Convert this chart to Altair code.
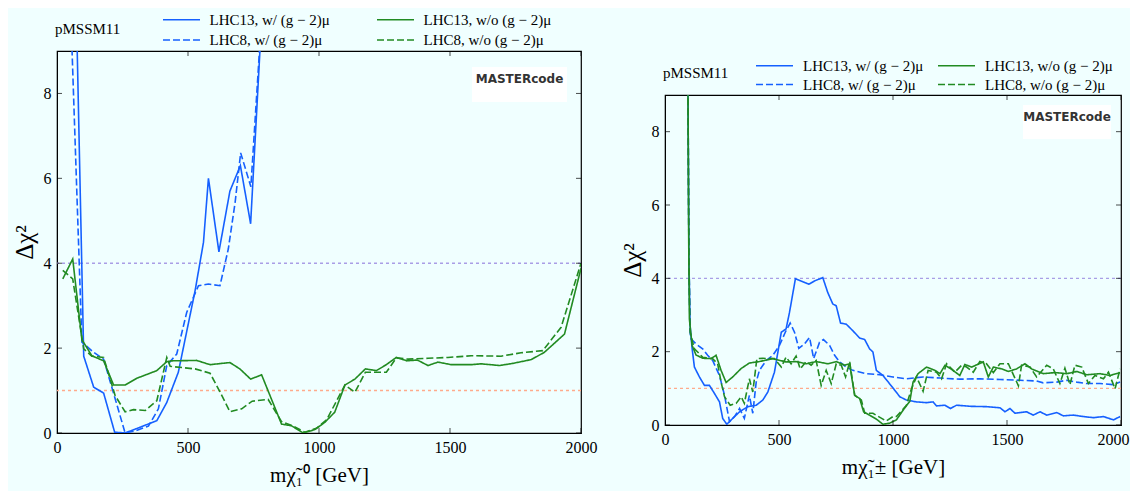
import altair as alt
import pandas as pd

FONT = "Liberation Serif"
SERIES = ["LHC13, w/ (g − 2)μ", "LHC8, w/ (g − 2)μ", "LHC13, w/o (g − 2)μ", "LHC8, w/o (g − 2)μ"]
COLORS = ["#1560ff", "#1560ff", "#228b22", "#228b22"]
DASHES = [[1, 0], [7, 3], [1, 0], [7, 3]]
X_TICKS = [0, 500, 1000, 1500, 2000]
Y_TICKS = [0, 2, 4, 6, 8]
REF_LEVELS = [4, 1]
REF_COLORS = ["#a99ee6", "#ffab8c"]

# ---------------- left panel: neutralino mass ----------------
L_x_13w = [72, 102, 140, 178, 220, 260, 298, 381, 419, 463, 527, 559, 578, 618, 660, 700, 739, 785]
L_y_13w = [10.5, 1.81, 1.08, 0.94, 0.02, 0.0, 0.09, 0.29, 0.72, 1.43, 3.35, 4.49, 6.0, 4.27, 5.7, 6.3, 4.93, 10.2]
L_x_13wo = [22, 60, 95, 133, 178, 216, 260, 305, 381, 419, 438, 533, 584, 660, 698, 739, 781, 857, 895, 940,
            984, 1022, 1060, 1099, 1137, 1177, 1219, 1257, 1295, 1336, 1375, 1416, 1454, 1505, 1581, 1619, 1689,
            1740, 1810, 1860, 1937, 2000]
L_y_13wo = [3.63, 4.1, 2.2, 1.82, 1.7, 1.13, 1.13, 1.29, 1.47, 1.68, 1.70, 1.71, 1.61, 1.66, 1.51, 1.27, 1.37,
            0.21, 0.17, 0.0, 0.08, 0.25, 0.49, 1.13, 1.27, 1.51, 1.47, 1.61, 1.78, 1.70, 1.72, 1.59, 1.67, 1.61,
            1.61, 1.63, 1.59, 1.64, 1.73, 1.90, 2.33, 3.88]
L_x_8w = [52, 95, 140, 178, 260, 298, 349, 387, 419, 457, 495, 540, 578, 622, 654, 680, 701, 740, 785]
L_y_8w = [10.0, 2.14, 1.90, 1.74, 0.0, 0.05, 0.16, 0.57, 1.59, 1.86, 2.84, 3.47, 3.51, 3.47, 4.34, 5.44, 6.6, 5.8, 10.2]
L_x_8wo = [22, 60, 102, 133, 178, 222, 260, 292, 337, 381, 419, 432, 527, 584, 622, 660, 705, 745, 806, 857,
           902, 946, 990, 1029, 1099, 1137, 1177, 1257, 1295, 1340, 1416, 1492, 1581, 1695, 1771, 1854, 1924, 2000]
L_y_8wo = [3.83, 3.63, 1.98, 1.81, 1.78, 0.88, 0.50, 0.55, 0.53, 0.76, 1.78, 1.57, 1.51, 1.41, 0.97, 0.50,
           0.57, 0.75, 0.79, 0.27, 0.16, 0.02, 0.11, 0.31, 1.13, 0.96, 1.43, 1.43, 1.77, 1.74, 1.76, 1.78, 1.82,
           1.81, 1.89, 1.94, 2.49, 4.0]

# ---------------- right panel: chargino mass ----------------
R_x_13w = [100, 105, 110, 119, 129, 151, 173, 195, 217, 239, 253, 271, 297, 327, 363, 400, 429, 451, 480, 510,
           531, 546, 572, 631, 656, 692, 714, 736, 751, 770, 795, 824, 854, 876, 897, 912, 927, 956, 1000, 1030,
           1059, 1103, 1147, 1176, 1191, 1227, 1252, 1279, 1337, 1410, 1469, 1491, 1513, 1535, 1586, 1615, 1645,
           1674, 1718, 1747, 1791, 1835, 1879, 1923, 1967, 1996]
R_y_13w = [10, 4.5, 2.71, 2.08, 1.58, 1.31, 1.08, 1.08, 0.86, 0.63, 0.18, 0.02, 0.18, 0.36, 0.50, 0.54, 0.68,
           0.90, 1.44, 2.53, 2.62, 3.07, 3.99, 3.84, 3.93, 4.02, 3.61, 3.30, 3.25, 2.78, 2.75, 2.57, 2.37, 2.33,
           2.08, 1.99, 1.49, 1.35, 1.01, 0.77, 0.68, 0.63, 0.61, 0.63, 0.52, 0.54, 0.45, 0.54, 0.51, 0.50, 0.47,
           0.36, 0.45, 0.32, 0.36, 0.27, 0.36, 0.27, 0.34, 0.25, 0.27, 0.23, 0.20, 0.23, 0.14, 0.23]
R_x_8w = [100, 105, 110, 114, 136, 165, 187, 209, 239, 261, 283, 305, 327, 348, 370, 385, 400, 414, 444, 473,
          502, 529, 549, 568, 587, 612, 634, 652, 678, 695, 722, 744, 766, 795, 824, 883, 941, 1000, 1059, 1132,
          1206, 1293, 1381, 1469, 1557, 1630, 1659, 1718, 1762, 1806, 1850, 1908, 1967, 1996]
R_y_8w = [10, 4.5, 2.53, 2.35, 2.21, 2.08, 1.90, 1.76, 1.35, 0.81, 0.09, 0.23, 0.45, 0.18, 0.81, 0.32, 1.17,
          1.49, 1.76, 1.90, 2.17, 2.55, 2.78, 2.53, 2.09, 2.21, 2.39, 1.81, 2.26, 2.33, 2.17, 1.90, 1.72, 1.58,
          1.49, 1.40, 1.37, 1.31, 1.26, 1.31, 1.28, 1.25, 1.26, 1.24, 1.22, 1.20, 1.15, 1.17, 1.22, 1.17, 1.13,
          1.13, 1.10, 1.17]
R_x_13wo = [100, 104, 107, 119, 136, 165, 202, 224, 246, 268, 297, 334, 370, 414, 473, 531, 575, 619, 663, 714,
            751, 788, 810, 821, 832, 854, 871, 897, 927, 956, 985, 1015, 1044, 1074, 1088, 1110, 1147, 1184, 1206,
            1228, 1257, 1293, 1315, 1345, 1396, 1418, 1440, 1477, 1506, 1542, 1579, 1608, 1659, 1711, 1762, 1806,
            1850, 1908, 1952, 1996]
R_y_13wo = [10, 5, 2.89, 2.17, 1.91, 1.82, 1.81, 1.90, 1.49, 1.16, 1.31, 1.54, 1.69, 1.73, 1.81, 1.72, 1.73,
            1.67, 1.73, 1.67, 1.73, 1.63, 1.67, 1.22, 0.81, 0.72, 0.36, 0.27, 0.16, 0.02, 0.05, 0.14, 0.40, 0.65,
            1.17, 1.40, 1.58, 1.49, 1.40, 1.63, 1.52, 1.35, 1.65, 1.58, 1.72, 1.31, 1.58, 1.53, 1.46, 1.53, 1.67,
            1.53, 1.40, 1.43, 1.40, 1.46, 1.37, 1.40, 1.35, 1.43]
R_x_8wo = [100, 105, 110, 129, 165, 209, 231, 246, 261, 286, 312, 334, 348, 370, 385, 403, 429, 458, 480, 510,
           531, 553, 575, 593, 619, 641, 663, 685, 707, 729, 751, 773, 792, 810, 832, 861, 876, 912, 956, 970,
           1000, 1015, 1059, 1081, 1103, 1132, 1154, 1191, 1213, 1235, 1271, 1301, 1323, 1352, 1381, 1410, 1440,
           1469, 1506, 1550, 1564, 1601, 1630, 1674, 1703, 1732, 1754, 1776, 1798, 1828, 1857, 1886, 1923, 1945,
           1974, 1996]
R_y_8wo = [10, 4.5, 2.53, 2.08, 1.85, 1.81, 1.67, 1.17, 0.77, 0.54, 0.59, 0.77, 0.59, 1.26, 0.90, 1.81, 1.82,
           1.81, 1.81, 1.58, 1.85, 1.67, 1.88, 1.53, 1.73, 1.63, 1.76, 1.08, 1.49, 1.13, 1.67, 1.63, 1.31, 1.72,
           0.81, 0.68, 0.32, 0.32, 0.16, 0.11, 0.23, 0.23, 0.54, 0.99, 1.31, 0.92, 1.49, 1.44, 1.26, 1.67, 1.44,
           1.63, 1.58, 1.44, 1.73, 1.67, 1.43, 1.67, 1.67, 1.07, 1.63, 1.58, 1.31, 1.63, 1.53, 1.13, 1.55, 1.10,
           1.63, 1.58, 1.13, 1.35, 1.26, 1.44, 0.99, 1.53]

SERIES_X = {"L": [L_x_13w, L_x_8w, L_x_13wo, L_x_8wo], "R": [R_x_13w, R_x_8w, R_x_13wo, R_x_8wo]}
SERIES_Y = {"L": [L_y_13w, L_y_8w, L_y_13wo, L_y_8wo], "R": [R_y_13w, R_y_8w, R_y_13wo, R_y_8wo]}


def panel(key, width, height, xtitle, leg_x, leg_y, col_pad, row_pad, label_off, logo_box, text_y,
          last_shift=0):
    rows = []
    for name, xs, ys in zip(SERIES, SERIES_X[key], SERIES_Y[key]):
        for i, (a, b) in enumerate(zip(xs, ys)):
            rows.append({"x": a, "y": b, "series": name, "order": i})
    df = pd.DataFrame(rows)
    xscale = alt.Scale(domain=[0, 2000], nice=False, zero=False)
    yscale = alt.Scale(domain=[0, 9], nice=False)
    legend = alt.Legend(orient="none", legendX=leg_x, legendY=leg_y, columns=2, columnPadding=col_pad,
                        rowPadding=row_pad, labelFont=FONT, labelFontSize=15, labelColor="black",
                        symbolType="M-2,0L2,0", symbolSize=342, symbolStrokeWidth=1.6, labelOffset=label_off,
                        title=None, padding=0, labelLimit=400)
    if last_shift:
        xaxis = alt.Axis(values=X_TICKS, title=xtitle, format="d", labelFlush=False,
                         labelOffset={"condition": {"test": "datum.value == 2000", "value": last_shift},
                                      "value": 0})
    else:
        xaxis = alt.Axis(values=X_TICKS, title=xtitle, format="d", labelFlush=False)
    yaxis = alt.Axis(values=Y_TICKS, title="Δχ²", titleFontSize=25, titlePadding=6)
    lines = alt.Chart(df).mark_line(clip=True, strokeWidth=1.6).encode(
        x=alt.X("x:Q", scale=xscale, axis=xaxis),
        y=alt.Y("y:Q", scale=yscale, axis=yaxis),
        color=alt.Color("series:N", scale=alt.Scale(domain=SERIES, range=COLORS), legend=legend),
        strokeDash=alt.StrokeDash("series:N", scale=alt.Scale(domain=SERIES, range=DASHES), legend=legend),
        order="order:Q",
    )
    layers = []
    for lvl, col in zip(REF_LEVELS, REF_COLORS):
        layers.append(alt.Chart(pd.DataFrame({"y": [lvl]})).mark_rule(
            color=col, strokeDash=[3, 3], strokeWidth=1.4).encode(y=alt.Y("y:Q", scale=yscale)))
    layers.append(lines)
    xt = pd.DataFrame({"x": X_TICKS})
    yt = pd.DataFrame({"y": Y_TICKS})
    for pos in [0, height]:
        layers.append(alt.Chart(xt).mark_tick(clip=True, orient="vertical", size=10, thickness=1,
                                              color="black").encode(
            x=alt.X("x:Q", scale=xscale), y=alt.value(pos)))
    for pos in [0, width]:
        layers.append(alt.Chart(yt).mark_tick(clip=True, orient="horizontal", size=10, thickness=1,
                                              color="black").encode(
            y=alt.Y("y:Q", scale=yscale), x=alt.value(pos)))
    one = pd.DataFrame({"t": ["pMSSM11"]})
    layers.append(alt.Chart(one).mark_text(align="left", baseline="middle", font=FONT, fontSize=15,
                                           color="black").encode(
        text="t:N", x=alt.value(-2), y=alt.value(text_y)))
    bx0, by0, bx1, by1 = logo_box
    layers.append(alt.Chart(one).mark_rect(color="white").encode(
        x=alt.value(bx0), x2=alt.value(bx1), y=alt.value(by0), y2=alt.value(by1)))
    layers.append(alt.Chart(pd.DataFrame({"t": ["MASTERcode"]})).mark_text(
        font="DejaVu Sans", fontWeight="bold", fontSize=12, color="#333333", baseline="middle").encode(
        text="t:N", x=alt.value((bx0 + bx1) / 2), y=alt.value(by0 + 12)))
    return alt.layer(*layers).properties(width=width, height=height)


left = panel("L", 524, 382, "mχ̃₁⁰ [GeV]", 114, -42, 43, 1.5, 17.5, (415, 16, 510, 51), -22)
# right legend is lifted to the column group, so its offset is relative to the spacer on top
right = panel("R", 456, 330, "mχ̃₁± [GeV]", 99, 4, 10, -2, 18, (358, 10, 446, 44), -22, last_shift=-8)

spacer = alt.Chart(pd.DataFrame({"a": [0]})).mark_rule(opacity=0).encode(
    x=alt.value(0), x2=alt.value(1), y=alt.value(0)
).properties(width=456, height=1, view=alt.ViewBackground(stroke="transparent", strokeWidth=0))

chart = alt.hconcat(left, alt.vconcat(spacer, right, spacing=13), spacing=21).resolve_scale(
    color="independent", strokeDash="independent"
).configure(
    background="#f0ffff", padding={"left": 3, "top": 0, "right": 0, "bottom": 5}
).configure_view(stroke="black", strokeWidth=1.2).configure_axis(
    ticks=False, grid=False, domainColor="black", labelFont=FONT, labelFontSize=16, labelColor="black",
    labelPadding=6, titleFont=FONT, titleFontSize=21, titleFontWeight="normal", titleColor="black",
    titlePadding=9
)

chart.save("out.html", embed_options={"renderer": "svg", "actions": False})
